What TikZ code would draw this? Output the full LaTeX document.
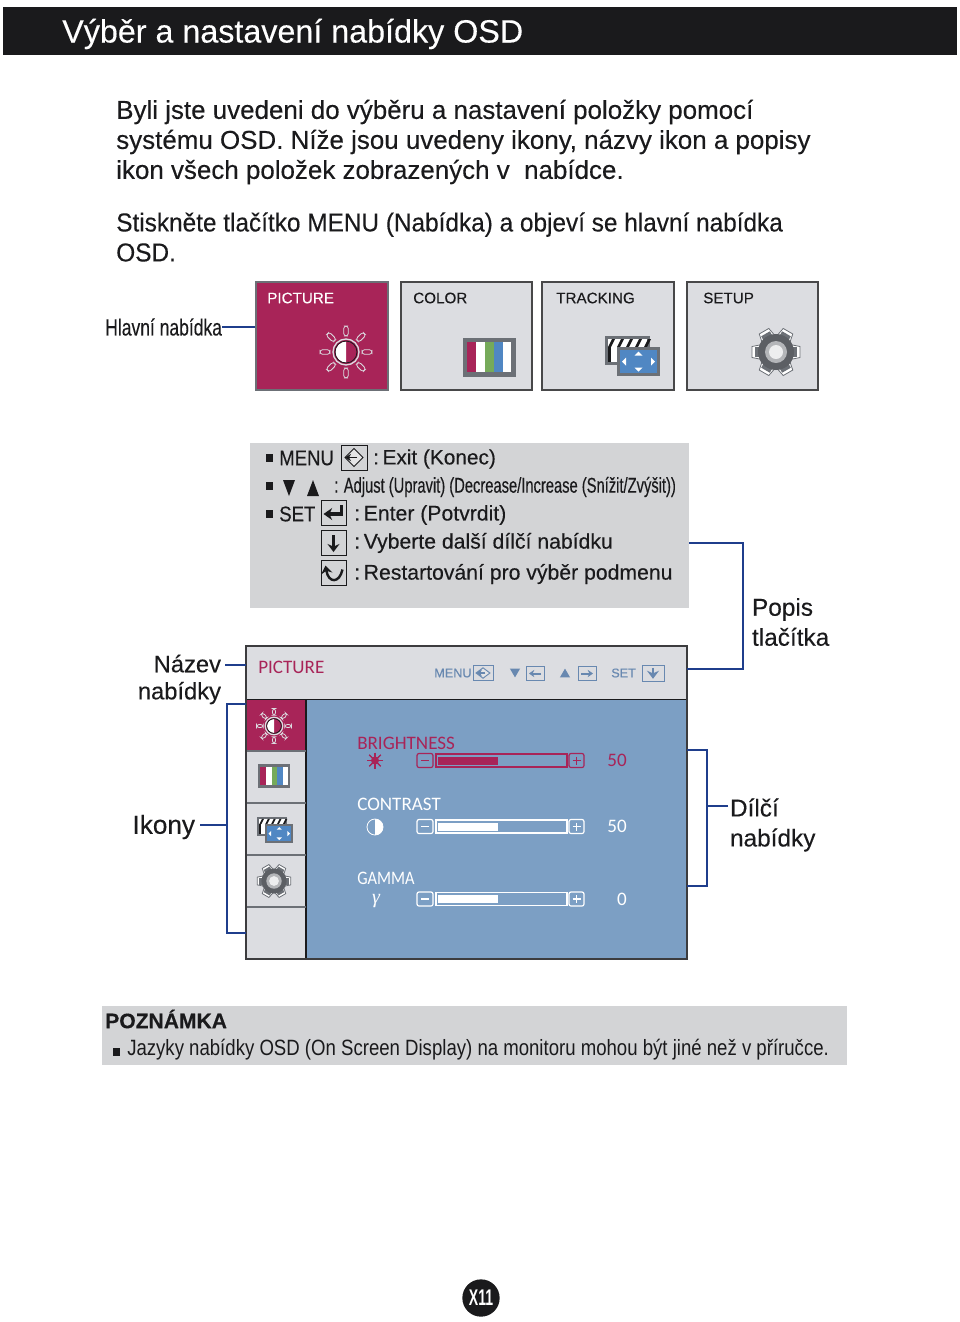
\documentclass[tikz,border=0pt]{standalone}
\usepackage{fontspec}
\setmainfont[FakeBold=0.25]{Liberation Sans}
\newfontfamily\narrowfont[FakeStretch=0.75,FakeBold=0.25]{Liberation Sans}
\newfontfamily\tightfont[FakeStretch=0.94,FakeBold=0.25]{Liberation Sans}
\newfontfamily\menufont[FakeStretch=0.87,FakeBold=0.25]{Liberation Sans}
\newfontfamily\adjustfont[FakeStretch=0.69,FakeBold=0.25]{Liberation Sans}
\newfontfamily\notefont[FakeStretch=0.84]{Liberation Sans}
\newfontfamily\pagefont[FakeStretch=0.62]{Liberation Sans}
\newfontfamily\gammafont{Liberation Serif}
\newfontfamily\osdfont{Carlito}
\newfontfamily\osdnarrow[FakeStretch=0.86]{Carlito}
\usetikzlibrary{arrows.meta,fit,calc}
\definecolor{lgcrimson}{RGB}{168,36,88}
\definecolor{lgframe}{RGB}{108,112,118}
\definecolor{lgpanel}{RGB}{124,159,196}
\definecolor{lgtile}{RGB}{220,221,225}
\definecolor{lgleader}{RGB}{31,62,140}
\definecolor{lggrey}{RGB}{211,212,214}
\definecolor{lgink}{RGB}{26,26,28}
\definecolor{lgkey}{RGB}{104,136,176}
\definecolor{lgbar}{RGB}{80,135,195}
\definecolor{lggreen}{RGB}{118,170,90}
\tikzset{
  bodytxt/.style={anchor=west,align=left,inner sep=0pt,text=lgink,font=\fontsize{19.45}{22.5}\selectfont},
  sidetxt/.style={inner sep=0pt,outer sep=0pt,text=lgink,font=\fontsize{18.3}{22.5}\selectfont},
  legtxt/.style={anchor=west,inner sep=0pt,text=lgink,font=\fontsize{15.9}{19}\selectfont},
  tiletxt/.style={anchor=west,inner sep=0pt,font=\fontsize{11.4}{14}\selectfont},
  osdtxt/.style={anchor=west,inner sep=0pt,font=\osdfont\fontsize{14.3}{17}\selectfont},
  tile/.style={draw=lgink!80,fill=lgtile,line width=1pt,inner sep=0pt},
  leader/.style={draw=lgleader,line width=1.7pt},
  keybox/.style={draw=#1,fill=none,line width=.7pt},
  sunicon/.pic={
    \foreach \ang in {0,45,...,315}
      \draw[draw=lgtile,fill=lgcrimson,line width=.6pt,rotate=\ang,rounded corners=2] (16,-2.3) rectangle (26,2.3);
    \fill[lgcrimson] (0,0) circle[radius=13];
    \draw[lgtile,line width=1pt] (0,0) circle[radius=13];
    \fill[white] (0,-10.5) arc[start angle=-90,end angle=-270,radius=10.5] -- cycle;
    \draw[lgink,line width=.6pt] (0,0) circle[radius=11];
  },
  barsicon/.pic={
    \fill[lgframe] (-26.5,-19.5) rectangle (26.5,19.5);
    \fill[lgcrimson] (-22,-15) rectangle (-13,15);
    \fill[white] (-13,-15) rectangle (-4,15);
    \fill[lggreen] (-4,-15) rectangle (5,15);
    \fill[lgbar] (5,-15) rectangle (14,15);
    \fill[white] (14,-15) rectangle (22,15);
  },
  trackicon/.pic={
    \fill[lgframe] (-27,-20) rectangle (18,9);
    \fill[white] (-24,-17) rectangle (15,6);
    \foreach \sx in {-24,-15,...,12}
      \fill[lgink] (\sx,-9) -- (\sx+4,-17) -- (\sx+7,-17) -- (\sx+3,-9) -- cycle;
    \fill[lgink] (-24,-9) -- (-21,-9) -- (-21,6) -- (-24,6) -- cycle;
    \fill[lgframe] (-15,-9) rectangle (28,20);
    \fill[lgbar] (-12,-6) rectangle (25,17);
    \fill[white] (6.5,-4.5) -- (2.5,-.5) -- (10.5,-.5) -- cycle;
    \fill[white] (6.5,15.5) -- (2.5,11.5) -- (10.5,11.5) -- cycle;
    \fill[white] (-10,5.5) -- (-6,1.5) -- (-6,9.5) -- cycle;
    \fill[white] (23,5.5) -- (19,1.5) -- (19,9.5) -- cycle;
  },
  gearicon/.pic={
    \foreach \ang in {0,60,...,300}
      \draw[draw=lgframe,fill=white,line width=.6pt,rotate=\ang] (14,-7.5) -- (24,-5.5) -- (24,5.5) -- (14,7.5);
    \foreach \ang in {0,60,...,300}
      \fill[lgframe,rotate=\ang] (14,-5) rectangle (21,5);
    \fill[lgframe!85!black] (0,0) circle[radius=18];
    \fill[lggrey!70!lgframe] (0,0) circle[radius=11];
    \fill[white!88!lgframe] (0,0) circle[radius=7];
  },
  exitkey/.pic={
    \draw[keybox=#1] (-13,-12.5) rectangle (13,12.5);
    \draw[#1,line width=.7pt,fill=white!40!lggrey] (0,-9) -- (9,0) -- (0,9) -- (-9,0) -- cycle;
    \draw[#1,line width=1.2pt,-{Stealth[length=4.5pt,width=5.5pt]}] (3,0) -- (-9,0);
  },
  enterkey/.pic={
    \draw[keybox=#1] (-12.5,-12.5) rectangle (12.5,12.5);
    \draw[#1,line width=2.4pt,-{Stealth[length=6.5pt,width=9pt]}] (8,-8) -- (8,1) -- (-10,1);
  },
  downkey/.pic={
    \draw[keybox=#1] (-12.5,-12.5) rectangle (12.5,12.5);
    \draw[#1,line width=2.2pt,-{Stealth[length=6pt,width=9pt]}] (0,-8) -- (0,9);
  },
  leftkey/.pic={
    \draw[keybox=#1] (-9,-7) rectangle (9,7);
    \draw[#1,line width=1.5pt,-{Stealth[length=4pt,width=5.5pt]}] (6,0) -- (-6,0);
  },
  rightkey/.pic={
    \draw[keybox=#1] (-9,-7) rectangle (9,7);
    \draw[#1,line width=1.5pt,-{Stealth[length=4pt,width=5.5pt]}] (-6,0) -- (6,0);
  },
  backkey/.pic={
    \draw[keybox=#1] (-12.5,-12.5) rectangle (12.5,12.5);
    \draw[#1,line width=1.8pt,{Stealth[length=6pt,width=8.5pt]}-] (-8,-7) .. controls (-5,11) and (6,11) .. (9,-3);
  },
  dntri/.pic={\fill[#1] (-6,-8) -- (6,-8) -- (0,8) -- cycle;},
  uptri/.pic={\fill[#1] (-6,8) -- (6,8) -- (0,-8) -- cycle;},
  slider/.pic={
    \draw[#1,line width=.9pt,rounded corners=1.5] (0,-7) rectangle (16,7);
    \draw[#1,line width=.9pt] (4,0) -- (12,0);
    \draw[#1,line width=.9pt] (19,-6.5) rectangle (150,6.5);
    \fill[#1] (21,-4) rectangle (81,4);
    \draw[#1,line width=.9pt,rounded corners=1.5] (152,-7) rectangle (167,7);
    \draw[#1,line width=.9pt] (155.5,0) -- (163.5,0) (159.5,-4) -- (159.5,4);
  },
}
\begin{document}
\begin{tikzpicture}[x=0.75pt,y=-0.75pt]
  \useasboundingbox (0,0) rectangle (960,1322);
  \fill[white] (0,0) rectangle (960,1322);
  % Title bar
  \node[fill=lgink,inner sep=0pt,fit={(3,7)(957,55)}] (titlebar) {};
  \node[anchor=west,inner sep=0pt,text=white,font=\fontsize{24.2}{28}\selectfont] (titletxt) at (62,34) {Výběr a nastavení nabídky OSD};
  % Intro text
  \node[bodytxt] (para1) at (116,142) {Byli jste uvedeni do výběru a nastavení položky pomocí\\systému OSD. Níže jsou uvedeny ikony, názvy ikon a popisy\\ikon všech položek zobrazených v\ \ nabídce.};
  \node[bodytxt,font=\tightfont\fontsize{19.45}{22.5}\selectfont] (para2) at (116,237) {Stiskněte tlačítko MENU (Nabídka) a objeví se hlavní nabídka\\OSD.};
  % Main menu tiles
  \node[draw=lgframe,fill=lgcrimson,line width=2.2pt,inner sep=0pt,fit={(256,282)(388,390)}] (tilepic) {};
  \node[tile,fit={(401,282)(532,390)}] (tilecol) {};
  \node[tile,fit={(542,282)(674,390)}] (tiletrk) {};
  \node[tile,fit={(687,282)(818,390)}] (tileset) {};
  \node[tiletxt,text=white] (namepic) at (267,298) {PICTURE};
  \node[tiletxt,text=lgink] (namecol) at (413,298) {COLOR};
  \node[tiletxt,text=lgink] (nametrk) at (556,298) {TRACKING};
  \node[tiletxt,text=lgink] (nameset) at (703,298) {SETUP};
  \pic at (346,352) {sunicon};
  \pic at (489,357) {barsicon};
  \pic at (632,356) {trackicon};
  \pic at (776,352) {gearicon};
  \node[sidetxt,anchor=east,font=\narrowfont\fontsize{17.5}{21}\selectfont] (lblmain) at (222,327) {Hlavní nabídka};
  \draw[leader] (lblmain.east) -- (lblmain.east -| tilepic.west);
  % Button legend
  \node[fill=lggrey,inner sep=0pt,fit={(250,443)(689,608)}] (legend) {};
  \fill[lgink] (266,454) rectangle (273,462);
  \fill[lgink] (266,482) rectangle (273,490);
  \fill[lgink] (266,510) rectangle (273,518);
  \node[legtxt,font=\menufont\fontsize{16}{19}\selectfont] (legmenu) at (279,458) {MENU};
  \pic at (354,457.5) {exitkey=lgink};
  \node[legtxt,font=\fontsize{15.6}{19}\selectfont] (legexit) at (373,459) {:\hspace{.17em}Exit (Konec)};
  \pic at (289,488) {dntri=lgink};
  \pic at (313,488) {uptri=lgink};
  \node[legtxt,font=\adjustfont\fontsize{16}{19}\selectfont] (legadj) at (334,487) {: Adjust (Upravit) (Decrease/Increase (Snížit/Zvýšit))};
  \node[legtxt,font=\menufont\fontsize{16}{19}\selectfont] (legset) at (279,514) {SET};
  \pic at (333.5,513) {enterkey=lgink};
  \node[legtxt] (legent) at (354,515) {:\hspace{.17em}Enter (Potvrdit)};
  \pic at (333.5,543) {downkey=lgink};
  \node[legtxt] (legnext) at (354,543) {:\hspace{.17em}Vyberte další dílčí nabídku};
  \pic at (333.5,572.5) {backkey=lgink};
  \node[legtxt] (legback) at (354,574) {:\hspace{.17em}Restartování pro výběr podmenu};
  % OSD window
  \node[fill=lgtile,inner sep=0pt,fit={(246,646)(687,959)}] (osd) {};
  \node[fill=lgpanel,inner sep=0pt,fit={(306,699)(687,959)}] (osdpanel) {};
  \node[fill=lgcrimson,inner sep=0pt,fit={(246,700)(306,751)}] (ostab) {};
  \draw[lgink,line width=.9pt] (246,699.5) -- (687,699.5);
  \draw[lgink,line width=.9pt] (306,699.5) -- (306,959);
  \foreach \tabY in {751,803,855,907}
    \draw[lgframe,line width=.8pt] (246,\tabY) -- (306,\tabY);
  \draw[lgink!85,line width=1.8pt] (osd.north west) rectangle (osd.south east);
  \node[osdtxt,text=lgcrimson] (ospic) at (258,667) {PICTURE};
  \node[tiletxt,text=lgkey,font=\fontsize{9.5}{11}\selectfont] (osmenu) at (434,673) {MENU};
  \pic[xscale=.77,yscale=.58] at (483,673) {exitkey=lgkey};
  \pic[xscale=.85,yscale=.55] at (515,673) {dntri=lgkey};
  \pic at (535,673.5) {leftkey=lgkey};
  \pic[xscale=.85,yscale=.55] at (565,673) {uptri=lgkey};
  \pic at (587,673.5) {rightkey=lgkey};
  \node[tiletxt,text=lgkey,font=\fontsize{9.5}{11}\selectfont] (osset) at (611,673) {SET};
  \pic[xscale=.88,yscale=.64] at (653,673) {downkey=lgkey};
  \pic[scale=.67] at (274,726) {sunicon};
  \pic[scale=.62] at (274,776) {barsicon};
  \pic[scale=.65] at (275,830) {trackicon};
  \pic[scale=.7] at (274,881) {gearicon};
  % Sub menu rows
  \node[osdtxt,text=lgcrimson] (rowbri) at (357,743) {BRIGHTNESS};
  \node[osdtxt,text=white] (rowcon) at (357,804) {CONTRAST};
  \node[osdtxt,text=white,font=\osdnarrow\fontsize{14.3}{17}\selectfont] (rowgam) at (357,878) {GAMMA};
  \pic at (417,760.5) {slider=lgcrimson};
  \pic at (417,826.5) {slider=white};
  \pic at (417,899) {slider=white};
  \node[osdtxt,anchor=east,text=lgcrimson] (valbri) at (627,760.5) {50};
  \node[osdtxt,anchor=east,text=white] (valcon) at (627,826.5) {50};
  \node[osdtxt,anchor=east,text=white] (valgam) at (627,899) {0};
  \foreach \ang in {0,45,...,315}
    \draw[lgcrimson,line width=.8pt,rotate around={\ang:(375,760.5)}] (375,752.5) -- (375,768.5);
  \node[circle,fill=lgcrimson,inner sep=0pt,minimum size=6pt] (icobri) at (375,760.5) {};
  \node[circle,draw=white,line width=.6pt,inner sep=0pt,minimum size=12pt] (icocon) at (375,827) {};
  \fill[white] (375,819) arc[start angle=-90,end angle=90,radius=8] -- cycle;
  \node[inner sep=0pt,text=white,font=\gammafont\itshape\fontsize{15}{17}\selectfont] (icogam) at (376,901) {γ};
  % Side labels and brackets
  \node[sidetxt,anchor=east,align=right,font=\fontsize{17.8}{20.3}\selectfont] (lblname) at (221,679.5) {Název\\nabídky};
  \coordinate (namept) at (225,665);
  \draw[leader] (namept) -- (osd.west |- namept);
  \node[sidetxt,anchor=east,font=\fontsize{19.6}{22.5}\selectfont] (lblicons) at (195,827) {Ikony};
  \coordinate (icotop) at (227,704);
  \coordinate (icolow) at (227,933);
  \coordinate (icomid) at (200,825);
  \draw[leader] (osd.west |- icotop) -- (icotop) -- (icolow) -- (osd.west |- icolow);
  \draw[leader] (icomid) -- (icomid -| icotop);
  \node[sidetxt,anchor=west,align=left] (lblbtn) at (752,622) {Popis\\tlačítka};
  \coordinate (btntop) at (743,543);
  \coordinate (btnlow) at (743,669);
  \draw[leader] (legend.east |- btntop) -- (btntop) -- (btnlow) -- (osd.east |- btnlow);
  \node[sidetxt,anchor=west,align=left] (lblsub) at (730,825) {Dílčí\\nabídky};
  \coordinate (subtop) at (707,750);
  \coordinate (sublow) at (707,886);
  \coordinate (submid) at (728,806);
  \draw[leader] (osd.east |- subtop) -- (subtop) -- (sublow) -- (osd.east |- sublow);
  \draw[leader] (submid) -- (submid -| subtop);
  % Note
  \node[fill=lggrey,inner sep=0pt,fit={(102,1006)(847,1065)}] (notebox) {};
  \node[legtxt,font=\bfseries\fontsize{15.8}{19}\selectfont] (notehead) at (105,1019) {POZNÁMKA};
  \fill[lgink] (113,1048) rectangle (120,1056);
  \node[legtxt,font=\notefont\fontsize{16.6}{19}\selectfont] (notetxt) at (127,1050) {Jazyky nabídky OSD (On Screen Display) na monitoru mohou být jiné než v příručce.};
  % Page number
  \node[circle,fill=lgink,inner sep=0pt,minimum size=28pt,text=white,font=\pagefont\bfseries\fontsize{17}{19}\selectfont] (pageno) at (481,1298) {X11};
\end{tikzpicture}
\end{document}
